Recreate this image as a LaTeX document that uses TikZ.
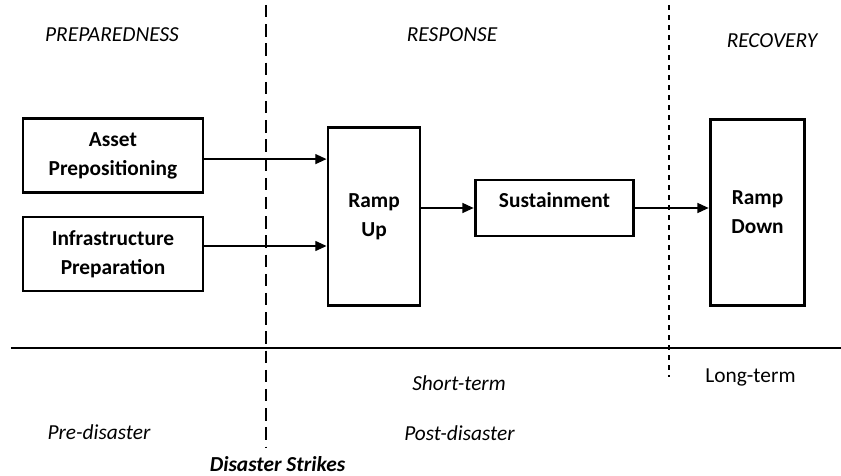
\documentclass[tikz,border=0pt]{standalone}
\usepackage{fontspec}
\setmainfont{Carlito}
\usepackage{tikz}
\usetikzlibrary{arrows.meta, positioning, calc}

\begin{document}
\begin{tikzpicture}[
  box/.style={draw=black, line width=2.1pt, fill=white,
    align=center, inner sep=2pt, font=\fontsize{15.2}{20.5}\selectfont\bfseries},
  phase/.style={font=\fontsize{15.2}{18}\selectfont\itshape},
  arr/.style={-{Triangle[length=0.28cm, width=0.25cm]}, black, line width=0.9pt}
]
\useasboundingbox (0,0) rectangle (21.025,-11.9);

% Dividing lines
\coordinate (strtop) at (6.65,-0.125);
\coordinate (strbot) at (6.65,-11.2);
\coordinate (rectop) at (16.725,-0.125);
\coordinate (recbot) at (16.725,-9.425);
\draw[line width=1.4pt, dash pattern=on 0.31cm off 0.17cm] (strtop) -- (strbot);
\draw[line width=0.9pt, dash pattern=on 0.13cm off 0.12cm] (rectop) -- (recbot);
\draw[line width=1pt] (0.275,-8.7) -- (21.025,-8.7);

% Phase headers
\node[phase] (prep) at (2.8,-0.875)   {PREPAREDNESS};
\node[phase] (resp) at (11.3,-0.875)  {RESPONSE};
\node[phase] (reco) at (19.3,-1.025)  {RECOVERY};

% Boxes
\node[box, minimum width=4.5cm, minimum height=1.83cm] (asset) at (2.825,-3.8875)
  {Asset\\Prepositioning};
\node[box, minimum width=4.5cm, minimum height=1.85cm] (infra) at (2.825,-6.35)
  {Infrastructure\\Preparation};
\node[box, minimum width=2.3cm, minimum height=4.47cm] (rampup) at (9.35,-5.4125)
  {Ramp\\Up};
\node[box, minimum width=3.97cm, minimum height=1.4cm,
      text height=0.37cm, text depth=0.37cm] (sust) at (13.8625,-5.2)
  {Sustainment};
\node[box, minimum width=2.37cm, minimum height=4.67cm] (rampdown) at (18.9375,-5.3125)
  {Ramp\\Down};

\draw[arr] ([yshift=-0.09cm]asset.east) -- ([yshift=-0.09cm]asset.east -| rampup.west);
\draw[arr] ([yshift=0.2cm]infra.east) -- ([yshift=0.2cm]infra.east -| rampup.west);
\draw[arr] (sust.west -| rampup.east) -- (sust.west);
\draw[arr] (sust.east) -- (sust.east -| rampdown.west);

% Time labels
\node[phase] (short) at (11.475,-9.575) {Short-term};
\node[font=\fontsize{15.2}{18}\selectfont] (long) at (18.7625,-9.425) {Long-term};
\node[phase] (pre) at (2.475,-10.8)    {Pre-disaster};
\node[phase] (post) at (11.4875,-10.825) {Post-disaster};
\node[font=\fontsize{15.2}{18}\selectfont\bfseries\itshape] (strikes) at (6.9375,-11.6)
  {Disaster Strikes};
\end{tikzpicture}
\end{document}
